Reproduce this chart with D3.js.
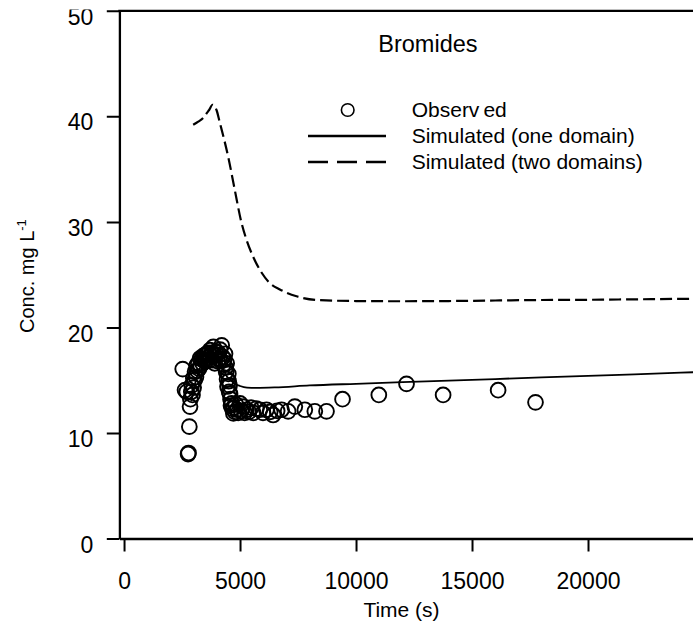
<!DOCTYPE html>
<html>
<head>
<meta charset="utf-8">
<script src="https://cdn.jsdelivr.net/npm/d3@7"></script>
<style>
body { margin: 0; background: #fff; }
svg { display: block; font-family: "Liberation Sans", Arial, sans-serif; }
</style>
</head>
<body>
<div id="chart"></div>
<script>
// observed bromide concentrations [time (s), conc (mg/L)]
const observed = [
    [2530,16.05],[2629,14.06],[2700,13.9],[2760,8.0],[2780,8.1],[2815,10.6],[2845,12.5],[2860,13.2],
    [2900,13.9],[2917,14.5],[2950,13.6],[2987,15.2],[3000,14.3],[3040,15.0],[3060,15.8],[3100,15.3],
    [3132,16.4],[3160,15.9],[3200,16.6],[3230,16.1],[3276,17.06],[3300,16.4],[3340,17.0],[3380,16.6],
    [3420,17.3],[3460,16.9],[3500,17.4],[3530,16.8],[3563,17.5],[3600,17.1],[3640,17.6],[3680,16.9],
    [3707,17.85],[3740,17.3],[3780,17.6],[3820,16.9],[3850,18.16],[3880,17.4],[3910,16.6],[3950,17.7],
    [3995,17.4],[4030,16.8],[4060,17.6],[4100,17.0],[4140,17.9],[4180,16.9],[4210,18.3],[4250,17.2],
    [4290,16.5],[4320,17.0],[4353,17.5],[4380,16.2],[4400,15.8],[4425,16.6],[4440,15.1],[4460,14.4],
    [4496,15.6],[4510,14.9],[4530,13.9],[4550,14.5],[4569,13.7],[4590,13.2],[4610,12.6],[4641,12.8],
    [4670,12.3],[4713,11.85],[4740,12.4],[4780,12.0],[4820,12.7],[4870,12.2],[4920,11.9],[5000,12.8],
    [5050,12.1],[5142,12.5],[5200,11.9],[5280,12.2],[5380,12.0],[5480,12.4],[5565,11.9],[5700,12.3],
    [5853,12.2],[5990,11.9],[6140,12.2],[6300,12.0],[6427,11.7],[6600,12.1],[6789,12.2],[7073,12.05],
    [7362,12.5],[7793,12.2],[8224,12.05],[8728,12.05],[9418,13.2],[10983,13.6],[12177,14.65],
    [13754,13.6],[16125,14.05],[17737,12.9]
];

// simulated, one domain
const oneDomain = [
    [2900,13.0],[3100,15.0],[3300,16.3],[3500,17.0],[3700,17.4],[3850,17.5],[4000,17.2],[4150,16.6],
    [4300,15.9],[4450,15.3],[4600,15.0],[4750,14.7],[5000,14.45],[5300,14.3],[5700,14.28],[6500,14.32],
    [8000,14.5],[10000,14.66],[12000,14.81],[14000,14.96],[16000,15.11],[18000,15.26],[20000,15.41],
    [22000,15.56],[24000,15.71],[25000,15.79]
];

// simulated, two domains
const twoDomains = [
    [2980,39.2],[3200,39.5],[3409,39.84],[3600,40.4],[3668,40.6],[3814,41.1],[3986,40.6],[4129,39.4],
    [4316,37.8],[4487,36.2],[4776,33.0],[5065,29.9],[5280,28.3],[5565,26.7],[5926,25.2],[6284,24.2],
    [6716,23.6],[7435,22.95],[8297,22.6],[10000,22.5],[12000,22.48],[14000,22.5],[16000,22.55],
    [18000,22.6],[20000,22.62],[22000,22.66],[24000,22.7],[25000,22.7]
];

const xTicks = [0, 5000, 10000, 15000, 20000];
const yTicks = [0, 10, 20, 30, 40, 50];
const legendLabels = ["Observed", "Simulated (one domain)", "Simulated (two domains)"];

const width = 693;
const height = 623;

const svg = d3.select("#chart")
    .append("svg")
    .attr("width", width)
    .attr("height", height);

svg.append("rect")
    .attr("width", width)
    .attr("height", height)
    .attr("fill", "#fff");

const xScale = d3.scaleLinear()
    .domain([-200, 25000])
    .range([119.4, 704]);

const yScale = d3.scaleLinear()
    .domain([0, 50])
    .range([538.5, 10.8]);

// clip for the top tick label (it is cut in the original)
svg.append("clipPath")
    .attr("id", "yclip")
    .append("rect")
    .attr("x", -130)
    .attr("y", 9.4)
    .attr("width", 200)
    .attr("height", 600);

// axes
const xAxis = svg.append("g")
    .attr("transform", `translate(0,${yScale(0)})`)
    .call(d3.axisBottom(xScale).tickValues(xTicks).tickSize(13).tickSizeOuter(0).tickFormat(d3.format("d")));

xAxis.select(".domain").attr("stroke-width", 2.6);
xAxis.selectAll(".tick line").attr("stroke-width", 2);
xAxis.selectAll(".tick text")
    .attr("y", 50.5)
    .attr("dy", null)
    .attr("font-size", 23)
    .attr("font-family", "Liberation Sans, Arial, sans-serif")
    .attr("fill", "#000");

const yAxis = svg.append("g")
    .attr("transform", "translate(119.4,0)")
    .attr("clip-path", "url(#yclip)")
    .call(d3.axisLeft(yScale).tickValues(yTicks).tickSize(12.6).tickSizeOuter(0));

yAxis.select(".domain").attr("stroke-width", 2.3);
yAxis.selectAll(".tick line").attr("stroke-width", 2);
yAxis.selectAll(".tick text")
    .attr("x", -26.1)
    .attr("dy", null)
    .attr("y", 13.6)
    .attr("font-size", 23)
    .attr("font-family", "Liberation Sans, Arial, sans-serif")
    .attr("fill", "#000");

// top frame line
svg.append("line")
    .attr("x1", 118.3)
    .attr("x2", width)
    .attr("y1", yScale(50))
    .attr("y2", yScale(50))
    .attr("stroke", "#000")
    .attr("stroke-width", 2.3);

// curves
const line = d3.line()
    .x(function(d) { return xScale(d[0]); })
    .y(function(d) { return yScale(d[1]); })
    .curve(d3.curveMonotoneX);

svg.append("path")
    .datum(twoDomains)
    .attr("d", line)
    .attr("fill", "none")
    .attr("stroke", "#000")
    .attr("stroke-width", 2.2)
    .attr("stroke-dasharray", "12,5");

svg.append("path")
    .datum(oneDomain)
    .attr("d", line)
    .attr("fill", "none")
    .attr("stroke", "#000")
    .attr("stroke-width", 1.8);

svg.selectAll("circle.obs")
    .data(observed)
    .enter()
    .append("circle")
        .attr("class", "obs")
        .attr("cx", function(d) { return xScale(d[0]); })
        .attr("cy", function(d) { return yScale(d[1]); })
        .attr("r", 7.4)
        .attr("fill", "none")
        .attr("stroke", "#000")
        .attr("stroke-width", 1.9);

// title
svg.append("text")
    .attr("x", 378.3)
    .attr("y", 51.7)
    .attr("font-size", 23.5)
    .text("Bromides");

// legend
const legend = svg.append("g");
const legendY = function(i) { return 117 + i * 26; };

legend.append("circle")
    .attr("cx", 347.7)
    .attr("cy", legendY(0) - 7)
    .attr("r", 6.3)
    .attr("fill", "none")
    .attr("stroke", "#000")
    .attr("stroke-width", 1.6);

legend.append("line")
    .attr("x1", 308).attr("x2", 386)
    .attr("y1", legendY(1) - 7).attr("y2", legendY(1) - 7)
    .attr("stroke", "#000")
    .attr("stroke-width", 2.6);

legend.append("line")
    .attr("x1", 308).attr("x2", 386)
    .attr("y1", legendY(2) - 7).attr("y2", legendY(2) - 7)
    .attr("stroke", "#000")
    .attr("stroke-width", 2.6)
    .attr("stroke-dasharray", "20,9");

legend.selectAll("text")
    .data(legendLabels)
    .enter()
    .append("text")
        .attr("x", 411.7)
        .attr("y", function(d, i) { return legendY(i); })
        .attr("font-size", 21)
        .each(function(d, i) {
            const t = d3.select(this);
            if (i === 0) {
                // the original shows a small gap inside the word
                t.append("tspan").text(d.slice(0, 6));
                t.append("tspan").attr("dx", 4).text(d.slice(6));
            } else {
                t.text(d);
            }
        });

// axis labels
svg.append("text")
    .attr("x", 401.5)
    .attr("y", 617)
    .attr("text-anchor", "middle")
    .attr("font-size", 21)
    .text("Time (s)");

const yLabel = svg.append("text")
    .attr("transform", "translate(34,333) rotate(-90)")
    .attr("font-size", 20);
yLabel.append("tspan").text("Conc. mg L");
yLabel.append("tspan").attr("dy", -8).attr("font-size", 13).text("-1");
</script>
</body>
</html>
